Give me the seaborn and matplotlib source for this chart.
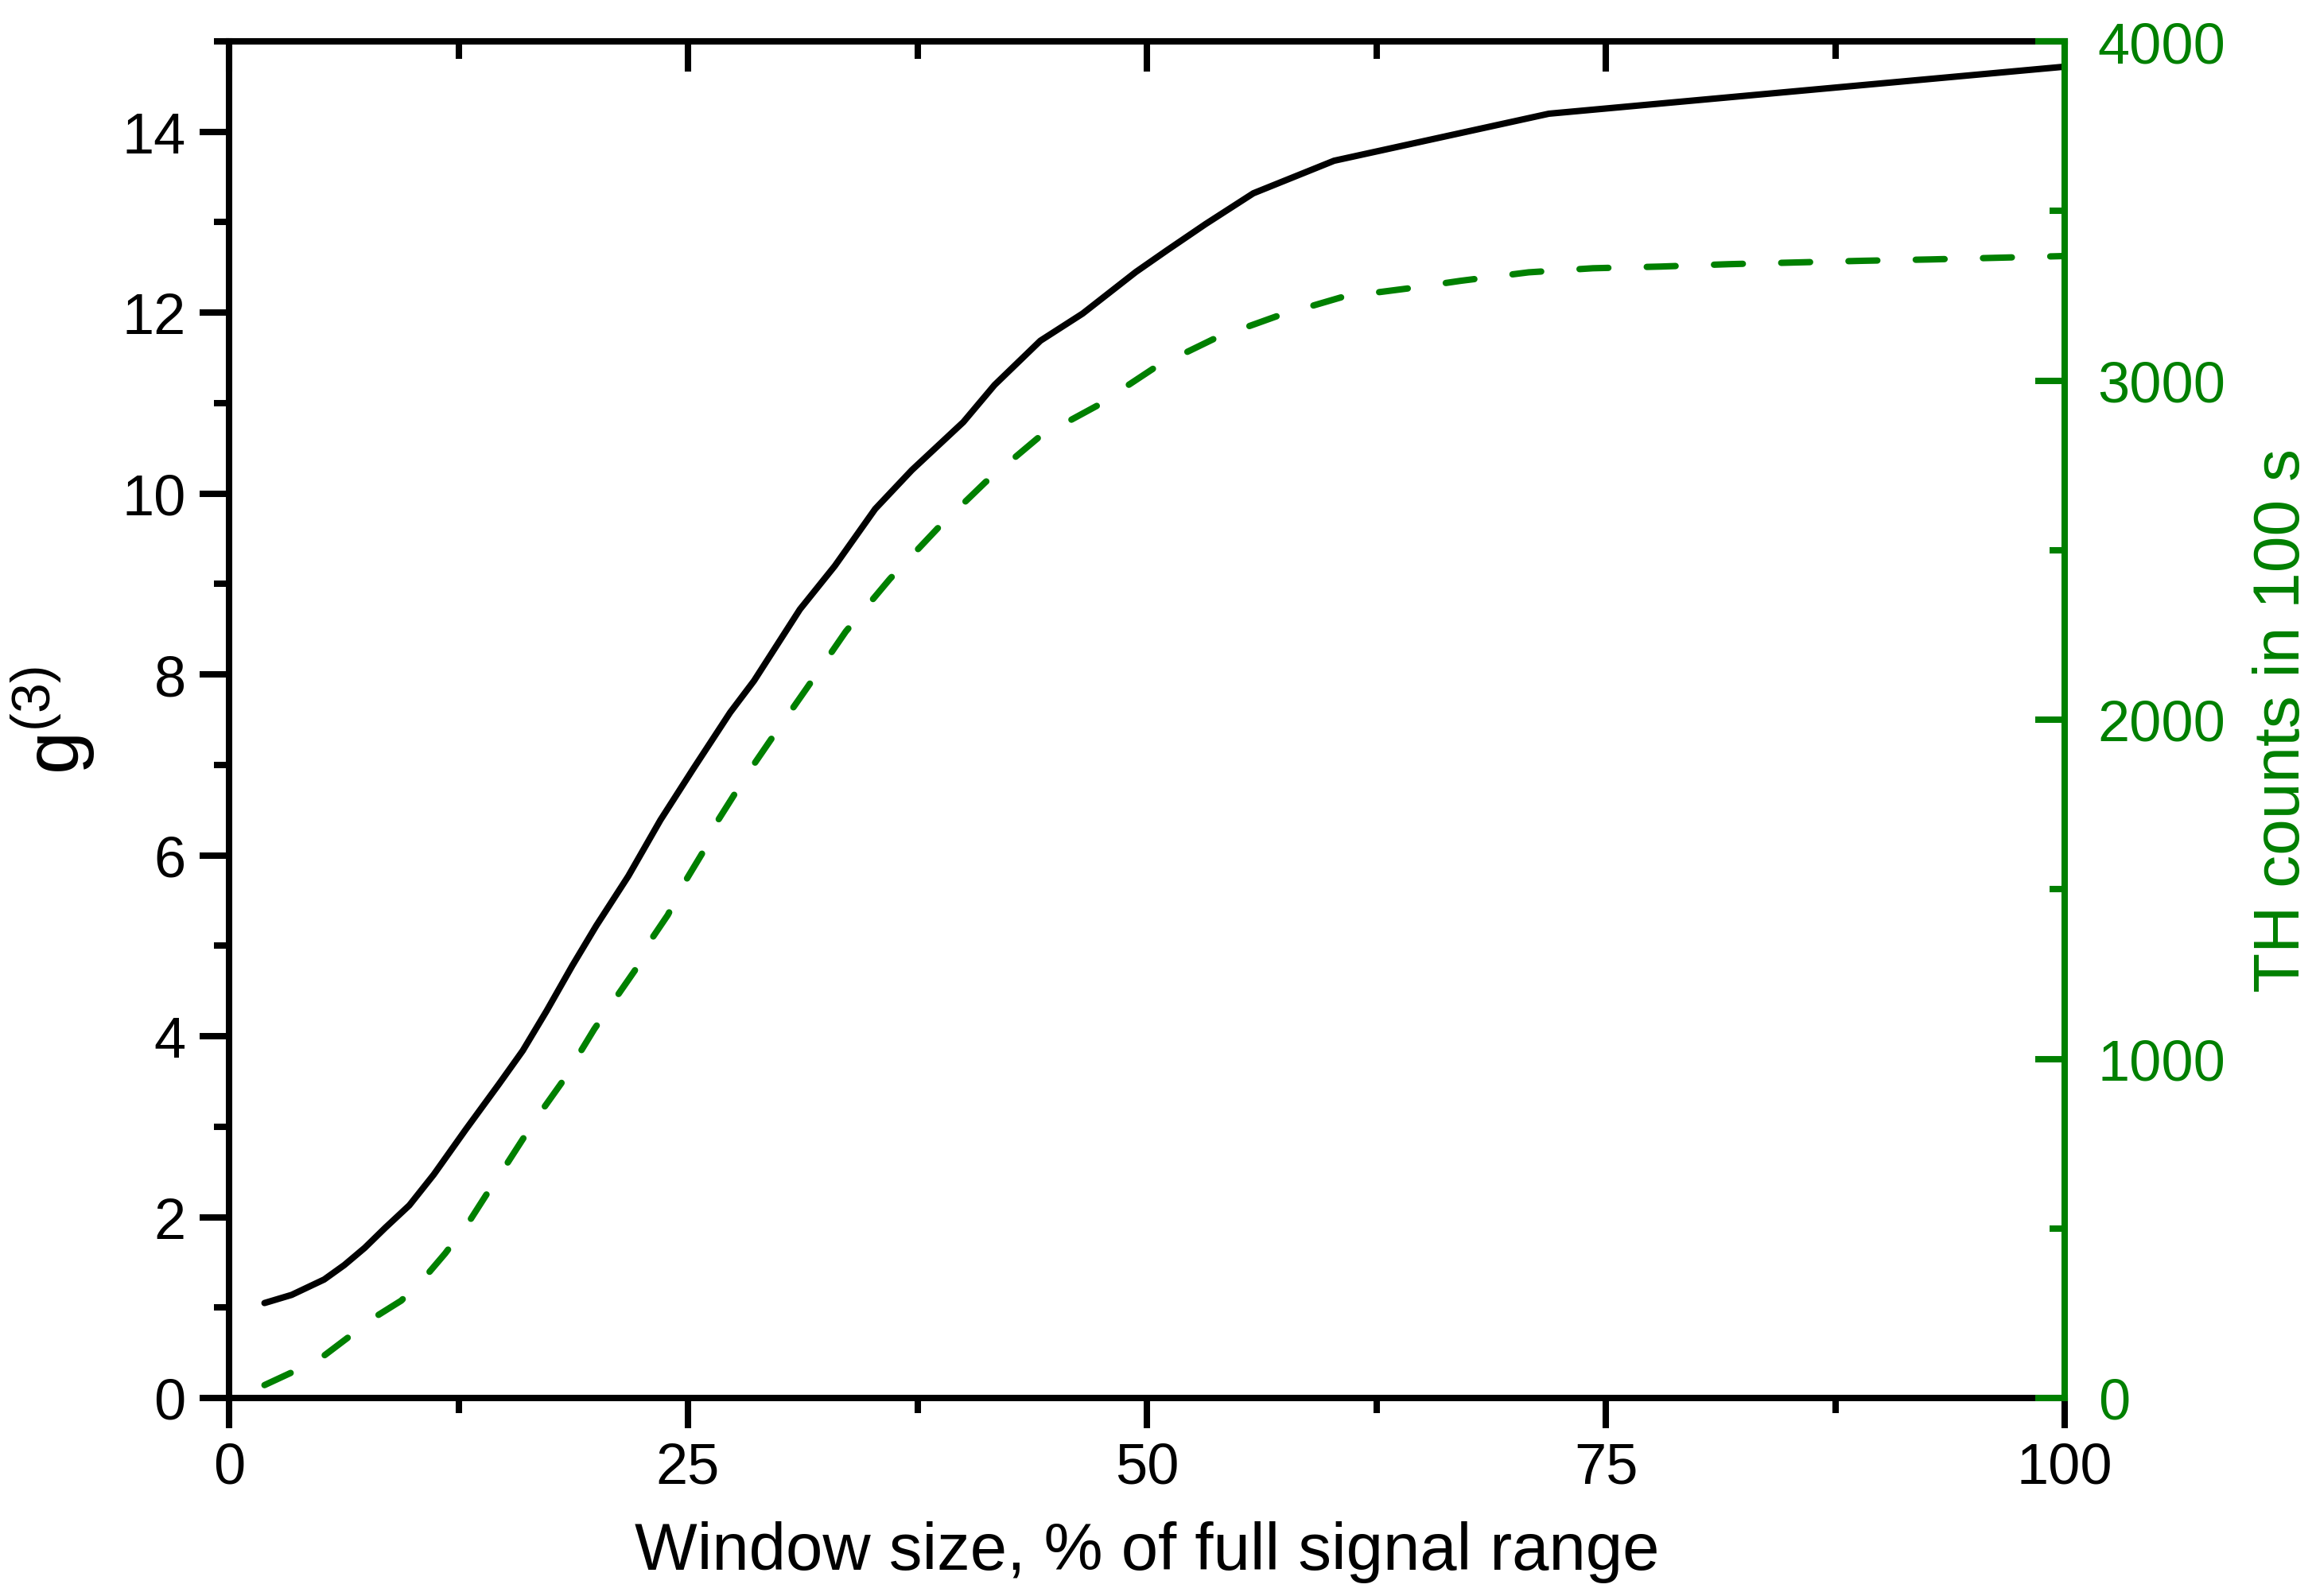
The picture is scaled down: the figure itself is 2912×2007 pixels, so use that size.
import numpy as np
import pandas as pd
import matplotlib
matplotlib.use("Agg")
import matplotlib.pyplot as plt
from matplotlib.ticker import MultipleLocator
import seaborn as sns

# ---- data ----
x_g3 = [1.93, 3.41, 5.18, 6.28, 7.39, 8.5, 9.82, 11.15, 12.9, 14.7, 16.0, 17.3, 18.7,
        20.0, 21.75, 23.5, 25.3, 27.3, 28.6, 31.1, 33.0, 35.2, 37.2, 40.0, 41.7,
        44.2, 46.5, 49.4, 51.1, 53.2, 55.8, 60.2, 71.9, 100.0]
g3 = [1.05, 1.14, 1.31, 1.47, 1.66, 1.88, 2.13, 2.47, 2.97, 3.47, 3.84, 4.28, 4.78,
      5.22, 5.77, 6.39, 6.96, 7.58, 7.93, 8.72, 9.2, 9.83, 10.26, 10.79, 11.2,
      11.69, 11.99, 12.45, 12.69, 12.98, 13.32, 13.68, 14.2, 14.72]

x_th = [1.93, 3.52, 5.18, 6.62, 8.05, 9.38, 10.7, 11.77, 13.03, 14.0, 15.06, 16.0,
        17.1, 18.1, 19.0, 19.9, 21.1, 22.1, 23.0, 23.9, 24.85, 25.8, 26.6, 27.5,
        28.5, 29.5, 31.5, 33.6, 36.0, 38.6, 41.2, 44.1, 47.3, 50.4, 53.7, 57.1,
        60.7, 64.3, 67.1, 70.8, 74.3, 78.0, 81.7, 85.3, 89.0, 92.7, 96.4, 100.0]
th_counts = [38, 78, 125, 184, 242, 287, 358, 426, 516, 598, 684, 763,
             852, 928, 1008, 1088, 1182, 1260, 1352, 1424, 1523, 1608, 1700, 1777,
             1861, 1940, 2095, 2260, 2415, 2564, 2700, 2832, 2926, 3037, 3124, 3190,
             3247, 3272, 3294, 3319, 3331, 3336, 3343, 3348, 3353, 3357, 3362, 3367]

x_ticks = [0, 25, 50, 75, 100]
left_ticks = [0, 2, 4, 6, 8, 10, 12, 14]
right_ticks = [0, 1000, 2000, 3000, 4000]

xlabel = "Window size, % of full signal range"
ylabel_left = r"$\mathregular{g^{(3)}}$"
ylabel_right = "TH counts in 100 s"

GREEN = "#008000"

sns.set_style("ticks")
plt.rcParams["font.family"] = ["Liberation Sans", "DejaVu Sans"]
plt.rcParams["mathtext.fontset"] = "custom"
plt.rcParams["mathtext.rm"] = "Liberation Sans"
plt.rcParams["mathtext.it"] = "Liberation Sans"
plt.rcParams["text.color"] = "black"
plt.rcParams["axes.labelcolor"] = "black"
plt.rcParams["xtick.color"] = "black"
plt.rcParams["ytick.color"] = "black"

W, H = 2912, 2008
fig = plt.figure(figsize=(W / 100, H / 100), dpi=100)
L, R, T, B = 288, 2596, 53, 1759
ax = fig.add_axes([L / W, 1 - B / H, (R - L) / W, (B - T) / H])

LW = 5.8

df1 = pd.DataFrame({"x": x_g3, "y": g3})
df2 = pd.DataFrame({"x": x_th, "y": th_counts})

sns.lineplot(data=df1, x="x", y="y", ax=ax, color="black", linewidth=LW,
             estimator=None)
ax.lines[0].set_linewidth(LW)
ax.lines[0].set_solid_capstyle("round")
ax.lines[0].set_solid_joinstyle("round")
ax.set_xlim(0, 100)
ax.set_ylim(0, 15)

ax2 = ax.twinx()
sns.lineplot(data=df2, x="x", y="y", ax=ax2, color=GREEN, linewidth=LW,
             estimator=None)
ax2.lines[0].set_linewidth(LW)
ax2.lines[0].set_dashes([4.5, 6])
ax2.lines[0].set_dash_capstyle("round")
ax2.set_ylim(0, 4000)
ax.set_xlim(0, 100)

for s in ["left", "bottom", "top"]:
    ax.spines[s].set_linewidth(LW)
    ax.spines[s].set_color("black")
ax.spines["right"].set_visible(False)
for s in ["left", "bottom", "top"]:
    ax2.spines[s].set_visible(False)
ax2.spines["right"].set_color(GREEN)
ax2.spines["right"].set_linewidth(LW)

tick_fs = 52
MAJ, MIN = 27, 14
ax.set_xticks(x_ticks)
ax.xaxis.set_minor_locator(MultipleLocator(12.5))
ax.set_yticks(left_ticks)
ax.yaxis.set_minor_locator(MultipleLocator(1))
ax.tick_params(axis="both", which="major", direction="out", length=MAJ, width=LW,
               labelsize=tick_fs, colors="black", pad=12)
ax.tick_params(axis="both", which="minor", direction="out", length=MIN, width=LW)
ax.tick_params(axis="x", top=False)

sec = ax.secondary_xaxis("top")
sec.set_xticks(x_ticks)
sec.xaxis.set_minor_locator(MultipleLocator(12.5))
sec.tick_params(axis="x", which="major", direction="in", length=MAJ, width=LW,
                labeltop=False)
sec.tick_params(axis="x", which="minor", direction="in", length=16, width=LW)
sec.spines["top"].set_linewidth(LW)

ax2.set_yticks(right_ticks)
ax2.yaxis.set_minor_locator(MultipleLocator(500))
ax2.tick_params(axis="y", which="major", direction="in", length=MAJ, width=LW,
                labelsize=tick_fs, colors=GREEN, pad=30)
ax2.tick_params(axis="y", which="minor", direction="in", length=MIN, width=LW,
                colors=GREEN)

ax.set_xlabel(xlabel, fontsize=60, labelpad=24)
ax.set_ylabel(ylabel_left, fontsize=70, labelpad=22)
ax2.set_ylabel(ylabel_right, fontsize=59, color=GREEN, labelpad=24)

fig.savefig("out.png", dpi=100)
